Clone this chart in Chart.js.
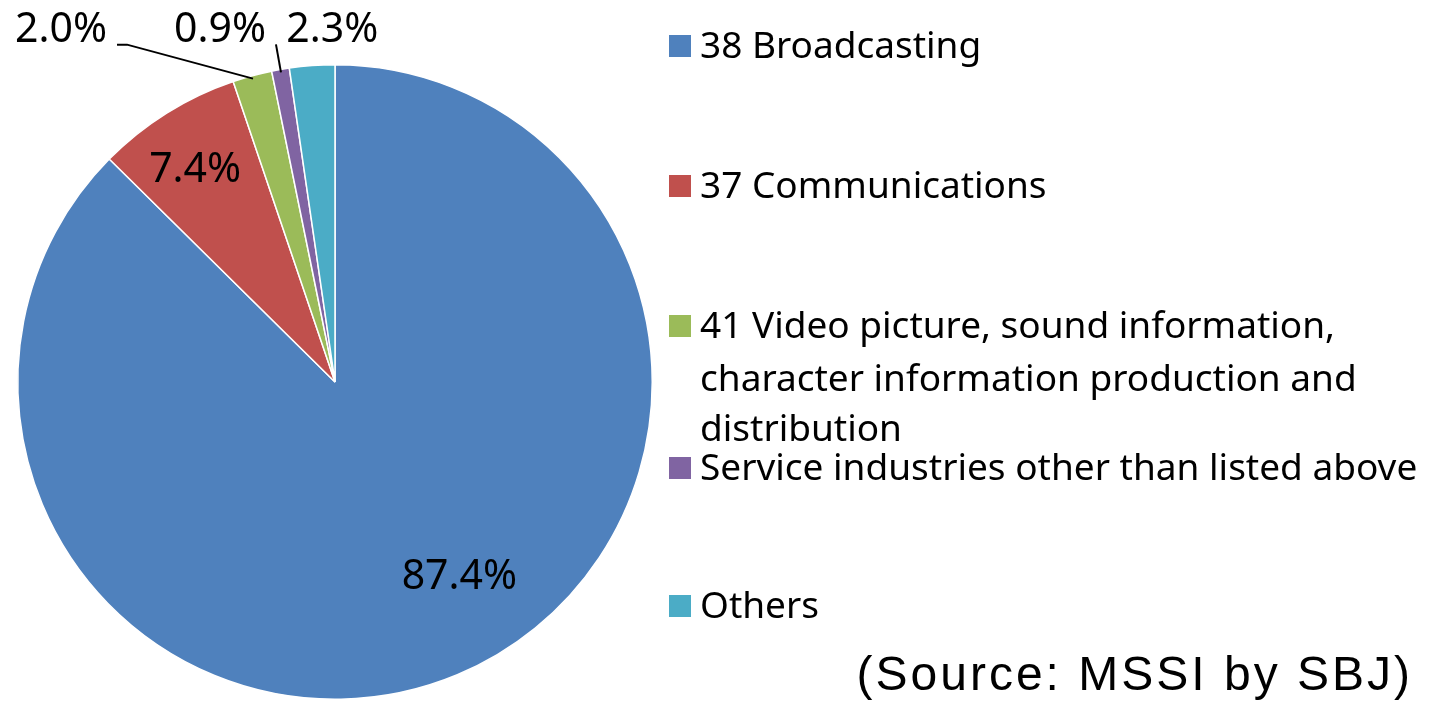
<!DOCTYPE html>
<html><head><meta charset="utf-8">
<script src="https://cdn.jsdelivr.net/npm/chart.js@4"></script>
<style>html,body{margin:0;padding:0;background:#fff;overflow:hidden}#wrap{width:1431px;height:702px;position:relative}</style>
</head><body><div id="wrap"><canvas id="c" width="1431" height="702"></canvas></div>
<script>
// ---- data ----
const categories = ["38 Broadcasting", "37 Communications", "41 Video picture, sound information, character information production and distribution", "Service industries other than listed above", "Others"];
const legendLines = [["38 Broadcasting"], ["37 Communications"], ["41 Video picture, sound information,", "character information production and", "distribution"], ["Service industries other than listed above"], ["Others"]];
const shares = [87.4, 7.4, 2.0, 0.9, 2.3];
const pctLabels = ["87.4%", "7.4%", "2.0%", "0.9%", "2.3%"];
const colors = ["#4F81BD", "#C0504D", "#9BBB59", "#8064A2", "#4BACC6"];
const sourceNote = "(Source: MSSI by SBJ)";

// ---- label layout (inside: radius fraction & angle shift; outside: offset from slice edge) ----
const labelLayout = [
  {mode: "in", r: 0.73, shift: -9.8},
  {mode: "in", r: 0.80, shift: -1.4},
  {mode: "out", dx: -192, dy: -48, leader: [[-126, -34], [-136, -34]]},
  {mode: "out", dx: -61, dy: -42, leader: [[-5, -28]]},
  {mode: "out", dx: 20, dy: -38, leader: null}
];
const legendBaselines = [[58], [198], [338, 391, 441], [480], [618]];

const overlay = {
  id: "overlay",
  afterDraw(chart) {
    const ctx = chart.ctx;
    const meta = chart.getDatasetMeta(0);
    ctx.save();
    // slice labels
    ctx.font = "41px 'Noto Sans'";
    ctx.fillStyle = "#000";
    ctx.textAlign = "center";
    ctx.textBaseline = "middle";
    meta.data.forEach((arc, i) => {
      const p = arc.getProps(["x", "y", "startAngle", "endAngle", "outerRadius"], true);
      const mid = (p.startAngle + p.endAngle) / 2;
      const L = labelLayout[i];
      if (L.mode === "in") {
        const a = mid + L.shift * Math.PI / 180;
        const rr = p.outerRadius * L.r;
        ctx.fillText(pctLabels[i], p.x + Math.cos(a) * rr, p.y + Math.sin(a) * rr);
      } else {
        const ex = p.x + Math.cos(mid) * (p.outerRadius - 3);
        const ey = p.y + Math.sin(mid) * (p.outerRadius - 3);
        if (L.leader) {
          ctx.beginPath();
          ctx.strokeStyle = "#000";
          ctx.lineWidth = 2;
          ctx.moveTo(ex, ey);
          L.leader.forEach(([lx, ly]) => ctx.lineTo(ex + lx, ey + ly));
          ctx.stroke();
        }
        ctx.fillText(pctLabels[i], ex + L.dx, ey + L.dy);
      }
    });
    // legend
    ctx.textAlign = "left";
    ctx.textBaseline = "alphabetic";
    ctx.font = "37px 'Noto Sans'";
    const lx = 700, maxW = 720;
    legendLines.forEach((lines, i) => {
      const b0 = legendBaselines[i][0];
      ctx.fillStyle = colors[i];
      ctx.fillRect(669, b0 - 23, 22, 22);
      ctx.fillStyle = "#000";
      lines.forEach((t, j) => {
        ctx.fillText(t, lx, legendBaselines[i][j], maxW);
      });
    });
    // source
    ctx.font = "48px 'Liberation Sans'";
    ctx.textAlign = "right";
    try { ctx.letterSpacing = "3px"; } catch (e) {}
    ctx.fillText(sourceNote, 1413, 690);
    ctx.restore();
  }
};

new Chart(document.getElementById("c"), {
  type: "pie",
  data: {
    labels: categories,
    datasets: [{
      data: shares,
      backgroundColor: colors,
      borderColor: "#ffffff",
      borderWidth: 1.5
    }]
  },
  options: {
    responsive: false,
    devicePixelRatio: 1,
    animation: false,
    layout: {padding: {left: 17, top: 64, right: 778, bottom: 2}},
    plugins: {legend: {display: false}, tooltip: {enabled: false}}
  },
  plugins: [overlay]
});
</script>
</body></html>
